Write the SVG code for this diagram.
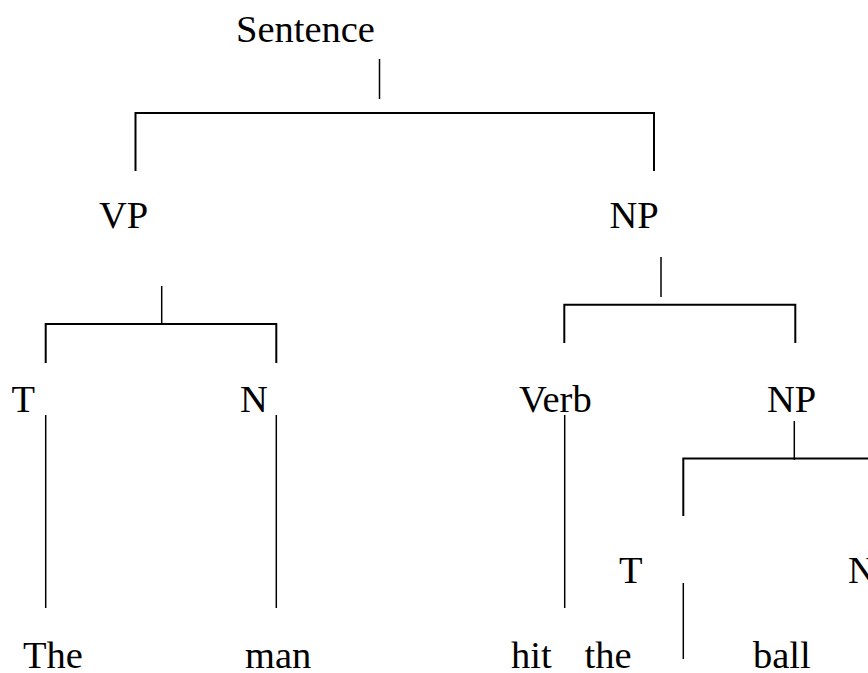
<svg xmlns="http://www.w3.org/2000/svg" width="868" height="673" viewBox="0 0 868 673">
<style>
text{font-family:"Liberation Serif","Times New Roman",serif;font-size:38.5px;fill:#000}
.v{stroke:#000;stroke-width:1.5;fill:none}
.b{stroke:#000;stroke-width:2;fill:none}
</style>
<rect width="868" height="673" fill="#fff"/>
<g id="connectors">
<path class="v" d="M379.5 59V99"/>
<path class="b" d="M135.5 171V113H654V171"/>
<path class="v" d="M161.7 286V324"/>
<path class="b" d="M45.7 363V324H276.3V363"/>
<path class="v" d="M45.7 415V608"/>
<path class="v" d="M276.3 415V608"/>
<path class="v" d="M661 257V297"/>
<path class="b" d="M564.3 343V304.7H795.3V343"/>
<path class="v" d="M564.7 415V608"/>
<path class="v" d="M794.3 421V460"/>
<path class="b" d="M683.3 516V458.5H868"/>
<path class="v" d="M683.3 583V659"/>
</g>
<g id="n-sentence"><text x="236" y="41.5">Sentence</text></g>
<g id="n-vp"><text x="99" y="228">VP</text></g>
<g id="n-np"><text x="609.5" y="228">NP</text></g>
<g id="n-t1"><text x="11.5" y="412">T</text></g>
<g id="n-n1"><text x="240" y="412">N</text></g>
<g id="n-verb"><text x="519" y="412">Verb</text></g>
<g id="n-np2"><text x="767" y="412">NP</text></g>
<g id="n-t2"><text x="619" y="583">T</text></g>
<g id="n-n2"><text x="848" y="583">N</text></g>
<g id="n-the1"><text x="23" y="668">The</text></g>
<g id="n-man"><text x="245" y="668">man</text></g>
<g id="n-hit"><text x="511" y="668">hit</text></g>
<g id="n-the2"><text x="584.5" y="668">the</text></g>
<g id="n-ball"><text x="753" y="668">ball</text></g>
</svg>
